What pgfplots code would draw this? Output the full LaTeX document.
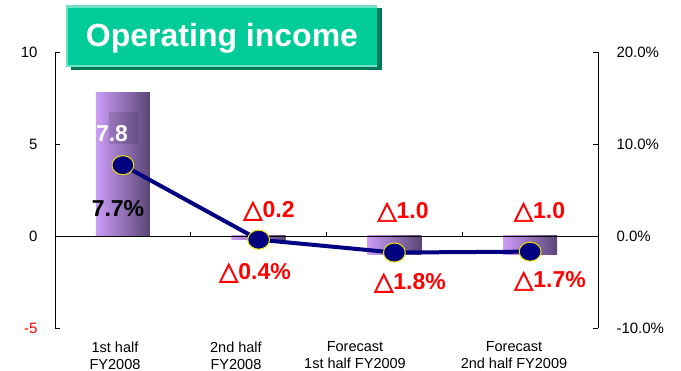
\documentclass[border=0pt]{standalone}
\usepackage{pgfplots}
\pgfplotsset{compat=1.18}
\usepackage{fontspec}
\setmainfont{Liberation Sans}
\newfontfamily\trifont[FakeBold=2.5]{DejaVu Sans}
\definecolor{barL}{RGB}{204,156,247}
\definecolor{barR}{RGB}{90,70,118}
\definecolor{navyline}{RGB}{0,0,128}
\definecolor{mkedge}{RGB}{235,225,0}
\definecolor{ttlgreen}{RGB}{0,204,153}
\definecolor{ttlshadow}{RGB}{0,120,90}
\definecolor{ttllight}{RGB}{110,226,194}
\newcommand{\tri}{{\fontsize{25}{27}\trifont\bfseries △}}
\begin{document}
\begin{tikzpicture}[x=1pt,y=1pt]
\useasboundingbox (0,0) rectangle (681,371);
\begin{axis}[
  at={(55pt,43pt)}, anchor=south west, scale only axis,
  width=543pt, height=276pt,
  xmin=0, xmax=4, ymin=-5, ymax=10,
  axis y line*=left, axis x line*=bottom,
  x axis line style={draw=none},
  xtick={0.442,1.333,2.21,3.381},
  xticklabels={{1st half\\FY2008},{2nd half\\FY2008},{Forecast\\1st half FY2009},{Forecast\\2nd half FY2009}},
  xticklabel style={align=center, font=\fontsize{14.5}{17}\selectfont, yshift=-10pt},
  x tick style={draw=none},
  ytick={-5,0,5,10},
  yticklabels={\textcolor{red}{-5},0,5,10},
  yticklabel style={font=\fontsize{15}{18}\selectfont, xshift=-14pt},
  y tick style={black, line width=0.6pt},
  y axis line style={line width=0.8pt},
  tick align=inside, major tick length=5pt,
  clip=false,
]
\addplot[ybar, bar width=54pt, bar shift=0pt, draw=none, left color=barL, right color=barR] coordinates {(0.5,7.8)};
\addplot[ybar, bar width=54pt, bar shift=0pt, draw=none, left color=barL, right color=barR] coordinates {(1.5,-0.2)};
\addplot[ybar, bar width=54pt, bar shift=0pt, draw=none, left color=barL, right color=barR] coordinates {(2.5,-1.0)};
\addplot[ybar, bar width=54pt, bar shift=0pt, draw=none, left color=barL, right color=barR] coordinates {(3.5,-1.0)};
\draw[black, line width=0.8pt] (axis cs:0,0) -- (axis cs:4,0);
\draw[black, line width=0.6pt] (axis cs:1,0) -- ++(0pt,4pt);
\draw[black, line width=0.6pt] (axis cs:2,0) -- ++(0pt,4pt);
\draw[black, line width=0.6pt] (axis cs:3,0) -- ++(0pt,4pt);
\draw[black, line width=0.6pt] (axis cs:4,0) -- ++(0pt,4pt);
\fill[black, opacity=0.12] (axis cs:0.398,5.0) rectangle (axis cs:0.611,6.74);
\node[white, font=\fontsize{23}{27}\selectfont\bfseries] at (axis cs:0.42,5.55) {7.8};
\node[black, font=\fontsize{23}{27}\selectfont\bfseries] at (axis cs:0.464,1.47) {7.7\%};
\node[red, font=\fontsize{23}{27}\selectfont\bfseries] at (axis cs:1.576,1.36) {\tri0.2};
\node[red, font=\fontsize{23}{27}\selectfont\bfseries] at (axis cs:1.473,-2.01) {\tri0.4\%};
\node[red, font=\fontsize{23}{27}\selectfont\bfseries] at (axis cs:2.564,1.30) {\tri1.0};
\node[red, font=\fontsize{23}{27}\selectfont\bfseries] at (axis cs:3.569,1.30) {\tri1.0};
\node[red, font=\fontsize{23}{27}\selectfont\bfseries] at (axis cs:2.615,-2.55) {\tri1.8\%};
\node[red, font=\fontsize{23}{27}\selectfont\bfseries] at (axis cs:3.646,-2.45) {\tri1.7\%};
\end{axis}
\begin{axis}[
  at={(55pt,43pt)}, anchor=south west, scale only axis,
  width=543pt, height=276pt,
  xmin=0, xmax=4, ymin=-10, ymax=20,
  axis y line*=right, axis x line=none,
  ytick={-10,0,10,20},
  yticklabels={-10.0\%,0.0\%,10.0\%,20.0\%},
  yticklabel style={font=\fontsize{15}{18}\selectfont, xshift=15pt},
  y tick style={black, line width=0.6pt},
  y axis line style={line width=0.8pt},
  tick align=inside, major tick length=5pt,
  clip=false,
]
\addplot[navyline, line width=4pt, mark=*, mark size=9.5pt,
  mark options={fill=navyline, draw=mkedge, line width=1pt, xscale=1.15}]
  coordinates {(0.5,7.7) (1.5,-0.4) (2.5,-1.8) (3.5,-1.7)};
\end{axis}
\fill[ttlshadow] (71,301) rectangle (382,363);
\fill[ttllight] (66,304) rectangle (377,366);
\fill[ttlgreen] (67.5,306) rectangle (377,363);
\node[white, font=\fontsize{32}{36}\selectfont\bfseries] at (222,333) {Operating income};
\end{tikzpicture}
\end{document}
